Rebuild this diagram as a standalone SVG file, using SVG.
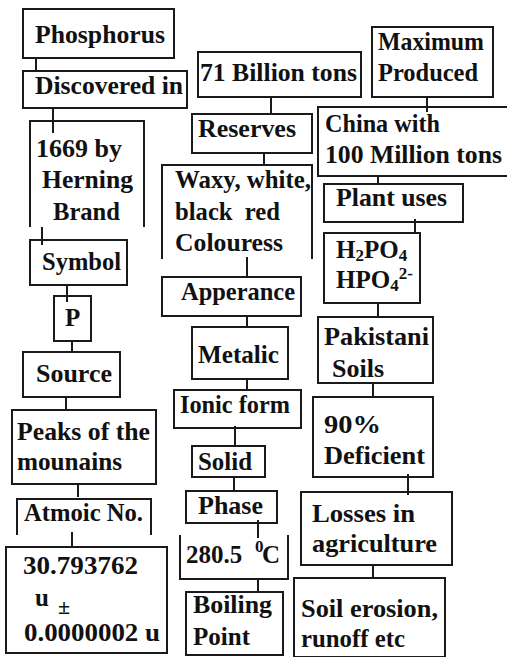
<svg xmlns="http://www.w3.org/2000/svg" width="507" height="657" viewBox="0 0 507 657">
<style>
.b{fill:none;stroke:#1a1a1a;stroke-width:2}
.c{fill:none;stroke:#1a1a1a;stroke-width:2}
.t text{font-family:"Liberation Serif","Times New Roman",serif;font-weight:bold;font-size:25px;fill:#111}
</style>
<rect width="507" height="657" fill="#fff"/>
<g id="connectors">
<path class="c" d="M36,58V71"/>
<path class="c" d="M53,108V133"/>
<path class="c" d="M42,227V245"/>
<path class="c" d="M67,285V302"/>
<path class="c" d="M72,341V352"/>
<path class="c" d="M66,397V410"/>
<path class="c" d="M78,484V497"/>
<path class="c" d="M72,532V547"/>
<path class="c" d="M271,97V114"/>
<path class="c" d="M264,153V165"/>
<path class="c" d="M247,257V277"/>
<path class="c" d="M247,316V327"/>
<path class="c" d="M247,379V390"/>
<path class="c" d="M235,426V446"/>
<path class="c" d="M234,477V491"/>
<path class="c" d="M258,520V538"/>
<path class="c" d="M258,579V592"/>
<path class="c" d="M427,97V112"/>
<path class="c" d="M378,176V184"/>
<path class="c" d="M415,219V233"/>
<path class="c" d="M378,303V317"/>
<path class="c" d="M373,383V397"/>
<path class="c" d="M408,474V495"/>
<path class="c" d="M373,565V578"/>
</g>
<g class="t">
<g id="phosphorus"><rect class="b" x="23" y="9" width="151" height="49"/><text x="35" y="43" textLength="130" lengthAdjust="spacingAndGlyphs">Phosphorus</text></g>
<g id="discovered"><rect class="b" x="23" y="71" width="164" height="37"/><text x="35" y="94" textLength="148" lengthAdjust="spacingAndGlyphs">Discovered in</text></g>
<g id="year"><path class="b" d="M30,227V121H144V227"/><text x="36" y="157" textLength="86" lengthAdjust="spacingAndGlyphs">1669 by</text><text x="42" y="188" textLength="91" lengthAdjust="spacingAndGlyphs">Herning</text><text x="53" y="220" textLength="67" lengthAdjust="spacingAndGlyphs">Brand</text></g>
<g id="symbol"><rect class="b" x="30" y="240" width="97" height="45"/><text x="42" y="270" textLength="79" lengthAdjust="spacingAndGlyphs">Symbol</text></g>
<g id="p"><rect class="b" x="54" y="296" width="37" height="45"/><text x="65" y="326">P</text></g>
<g id="source"><rect class="b" x="23" y="352" width="97" height="45"/><text x="36" y="382" textLength="76" lengthAdjust="spacingAndGlyphs">Source</text></g>
<g id="peaks"><rect class="b" x="12" y="410" width="144" height="74"/><text x="17" y="440" textLength="133" lengthAdjust="spacingAndGlyphs">Peaks of the</text><text x="17" y="470" textLength="105" lengthAdjust="spacingAndGlyphs">mounains</text></g>
<g id="atomic"><path class="b" d="M17,535V499H151V535"/><text x="24" y="521" textLength="119" lengthAdjust="spacingAndGlyphs">Atmoic No.</text></g>
<g id="mass"><rect class="b" x="6" y="547" width="161" height="106"/><text x="23" y="574" textLength="115" lengthAdjust="spacingAndGlyphs">30.793762</text><text x="35" y="606">u<tspan x="58" y="614" font-size="22">±</tspan></text><text x="24" y="641" textLength="136" lengthAdjust="spacingAndGlyphs">0.0000002 u</text></g>
<g id="billion"><rect class="b" x="198" y="52" width="163" height="45"/><text x="200" y="81" textLength="157" lengthAdjust="spacingAndGlyphs">71 Billion tons</text></g>
<g id="reserves"><rect class="b" x="192" y="114" width="120" height="39"/><text x="198" y="137" textLength="98" lengthAdjust="spacingAndGlyphs">Reserves</text></g>
<g id="waxy"><path class="b" d="M162,259V165H312V259"/><text x="175" y="188" textLength="136" lengthAdjust="spacingAndGlyphs">Waxy, white,</text><text x="175" y="220" xml:space="preserve" textLength="105" lengthAdjust="spacingAndGlyphs">black  red</text><text x="175" y="251" textLength="108" lengthAdjust="spacingAndGlyphs">Colouress</text></g>
<g id="appearance"><rect class="b" x="162" y="277" width="139" height="39"/><text x="181" y="300" textLength="114" lengthAdjust="spacingAndGlyphs">Apperance</text></g>
<g id="metalic"><rect class="b" x="192" y="327" width="96" height="52"/><text x="198" y="363" textLength="81" lengthAdjust="spacingAndGlyphs">Metalic</text></g>
<g id="ionic"><rect class="b" x="174" y="390" width="127" height="38"/><text x="180" y="413" textLength="110" lengthAdjust="spacingAndGlyphs">Ionic form</text></g>
<g id="solid"><rect class="b" x="192" y="446" width="73" height="31"/><text x="198" y="470" textLength="54" lengthAdjust="spacingAndGlyphs">Solid</text></g>
<g id="phase"><rect class="b" x="186" y="491" width="91" height="32"/><text x="198" y="514" textLength="65" lengthAdjust="spacingAndGlyphs">Phase</text></g>
<g id="temp"><path class="b" d="M180,535V579H288V535"/><text x="186" y="563">280.5 <tspan font-size="17" x="255" dy="-11">0</tspan><tspan x="262" dy="11">C</tspan></text></g>
<g id="boiling"><rect class="b" x="186" y="592" width="97" height="63"/><text x="193" y="613" textLength="79" lengthAdjust="spacingAndGlyphs">Boiling</text><text x="193" y="645" textLength="57" lengthAdjust="spacingAndGlyphs">Point</text></g>
<g id="maximum"><rect class="b" x="372" y="27" width="121" height="70"/><text x="378" y="50" textLength="106" lengthAdjust="spacingAndGlyphs">Maximum</text><text x="378" y="81" textLength="100" lengthAdjust="spacingAndGlyphs">Produced</text></g>
<g id="china"><rect class="b" x="318" y="107" width="190" height="69"/><text x="325" y="132" textLength="115" lengthAdjust="spacingAndGlyphs">China with</text><text x="325" y="163" textLength="177" lengthAdjust="spacingAndGlyphs">100 Million tons</text></g>
<g id="plant"><rect class="b" x="324" y="184" width="139" height="38"/><text x="336" y="206" textLength="111" lengthAdjust="spacingAndGlyphs">Plant uses</text></g>
<g id="ions"><rect class="b" x="324" y="233" width="96" height="70"/><text x="336" y="258">H<tspan font-size="17" dy="3">2</tspan><tspan dy="-3">PO</tspan><tspan font-size="17" dy="3">4</tspan></text><text x="336" y="288">HPO<tspan font-size="17" dy="3">4</tspan><tspan font-size="17" dy="-12">2-</tspan></text></g>
<g id="pakistani"><rect class="b" x="318" y="317" width="115" height="66"/><text x="324" y="345" textLength="105" lengthAdjust="spacingAndGlyphs">Pakistani</text><text x="332" y="377" textLength="52" lengthAdjust="spacingAndGlyphs">Soils</text></g>
<g id="deficient"><rect class="b" x="313" y="397" width="120" height="80"/><text x="324" y="433" textLength="57" lengthAdjust="spacingAndGlyphs">90%</text><text x="324" y="464" textLength="101" lengthAdjust="spacingAndGlyphs">Deficient</text></g>
<g id="losses"><rect class="b" x="301" y="492" width="151" height="73"/><text x="312" y="522" textLength="103" lengthAdjust="spacingAndGlyphs">Losses in</text><text x="312" y="552" textLength="125" lengthAdjust="spacingAndGlyphs">agriculture</text></g>
<g id="erosion"><rect class="b" x="294" y="578" width="151" height="79"/><text x="301" y="617" textLength="137" lengthAdjust="spacingAndGlyphs">Soil erosion,</text><text x="301" y="647" textLength="104" lengthAdjust="spacingAndGlyphs">runoff etc</text></g>
</g>
</svg>
